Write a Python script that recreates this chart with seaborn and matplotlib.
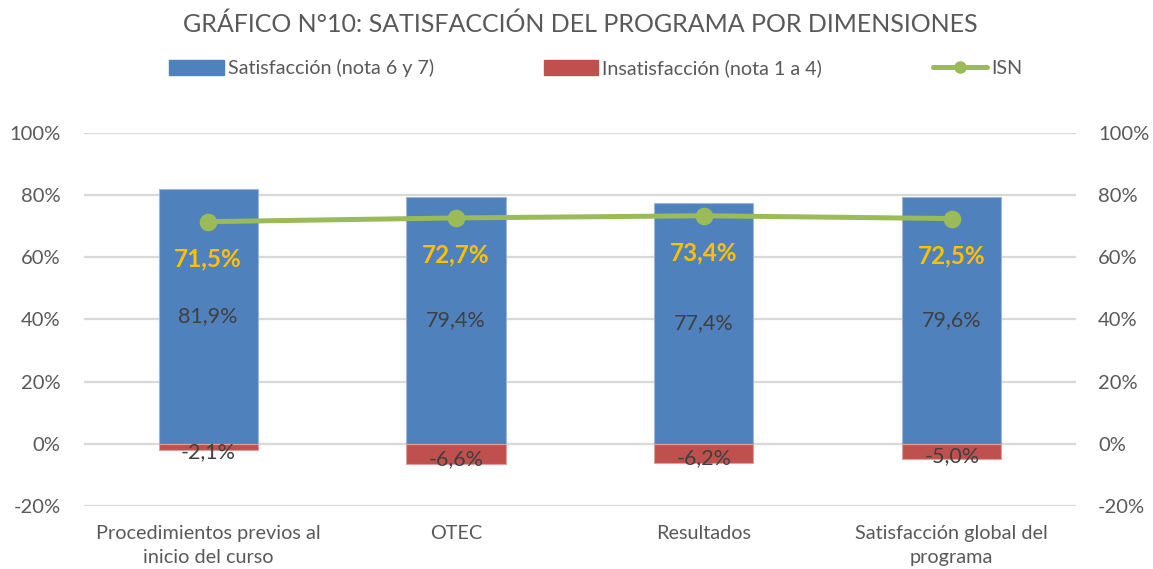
import matplotlib
matplotlib.use("Agg")
import matplotlib.pyplot as plt
import seaborn as sns
import pandas as pd
from matplotlib.lines import Line2D
from matplotlib.patches import Patch

categories = ["Procedimientos previos al\ninicio del curso", "OTEC", "Resultados",
              "Satisfacción global del\nprograma"]
satisfaccion = [81.9, 79.4, 77.4, 79.6]
insatisfaccion = [-2.1, -6.6, -6.2, -5.0]
isn = [71.5, 72.7, 73.4, 72.5]
yticks = [-20, 0, 20, 40, 60, 80, 100]

BLUE = "#4F81BD"
RED = "#C0504D"
GREEN = "#9BBB59"
YELLOW = "#FFC000"
TXT = "#595959"

sns.set_theme(style="white")
plt.rcParams["font.family"] = ["Lato", "DejaVu Sans"]

df = pd.DataFrame({"cat": categories, "sat": satisfaccion, "ins": insatisfaccion, "isn": isn})

fig = plt.figure(figsize=(11.53, 5.69), dpi=100)
ax = fig.add_axes([0.073, 0.111, 0.86, 0.655])

sns.barplot(data=df, x="cat", y="sat", color=BLUE, width=0.4, saturation=1,
            edgecolor="#9DB6DA", linewidth=0.8, ax=ax, zorder=2)
sns.barplot(data=df, x="cat", y="ins", color=RED, width=0.4, saturation=1,
            edgecolor="#DDA09F", linewidth=0.8, ax=ax, zorder=2)
sns.pointplot(data=df, x="cat", y="isn", color=GREEN, markers="o", markersize=10,
              linewidth=3.6, ax=ax, zorder=4)

ax.set_ylim(-20, 100)
ax.set_xlim(-0.5, 3.5)
ax.set_yticks(yticks)
ax.set_yticklabels([f"{v}%" for v in yticks])
ax.yaxis.grid(True, color="#D9D9D9", linewidth=1.6, zorder=0)
ax.set_axisbelow(True)
for s in ax.spines.values():
    s.set_visible(False)
ax.set_xlabel("")
ax.set_ylabel("")
ax.tick_params(axis="y", length=0, labelsize=14.5, labelcolor=TXT, pad=17)
ax.tick_params(axis="x", length=0, labelsize=14.3, labelcolor=TXT, pad=14)
for t in ax.get_xticklabels():
    t.set_linespacing(1.5)

ax2 = ax.twinx()
ax2.set_ylim(-20, 100)
ax2.set_yticks(yticks)
ax2.set_yticklabels([f"{v}%" for v in yticks])
ax2.tick_params(axis="y", length=0, labelsize=14.5, labelcolor=TXT, pad=16)
for s in ax2.spines.values():
    s.set_visible(False)
ax2.grid(False)

for i in range(len(categories)):
    ax.text(i, satisfaccion[i] / 2, f"{satisfaccion[i]:.1f}%".replace(".", ","),
            ha="center", va="center", fontsize=15.5, color="#404040", zorder=5)
    ax.text(i, insatisfaccion[i] / 2 - 1.5, f"{insatisfaccion[i]:.1f}%".replace(".", ","),
            ha="center", va="center", fontsize=15.5, color="#404040", zorder=5)
    ax.text(i, isn[i] - 12, f"{isn[i]:.1f}%".replace(".", ","),
            ha="center", va="center", fontsize=17.5, color=YELLOW, fontweight="bold", zorder=5)

fig.text(0.503, 0.958, "GRÁFICO N°10: SATISFACCIÓN DEL PROGRAMA POR DIMENSIONES",
         ha="center", va="center", fontsize=18, color=TXT)

handles = [Patch(facecolor=BLUE, edgecolor=BLUE),
           Patch(facecolor=RED, edgecolor=RED),
           Line2D([0], [0], color=GREEN, lw=3.6, marker="o", markersize=8)]
labels = ["Satisfacción (nota 6 y 7)", "Insatisfacción (nota 1 a 4)", "ISN"]
leg = fig.legend(handles, labels, loc="center left", bbox_to_anchor=(0.147, 0.88), ncol=3,
                 frameon=False, fontsize=14.2, handlelength=2.75, handleheight=0.75,
                 handletextpad=0.2, columnspacing=5.6, labelcolor=TXT,
                 borderpad=0, borderaxespad=0)

fig.savefig("out.png", dpi=100)
